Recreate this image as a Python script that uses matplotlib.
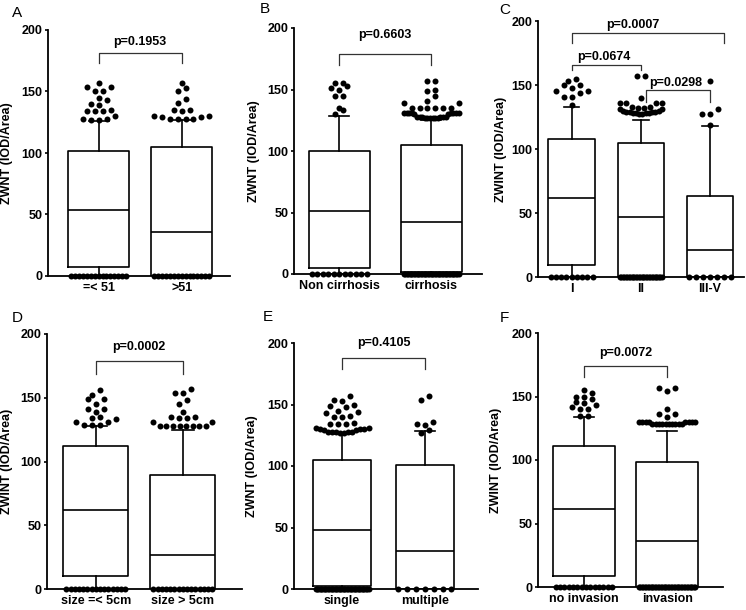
import matplotlib.pyplot as plt
import numpy as np

plt.rcParams['font.family'] = ['Liberation Sans', 'DejaVu Sans']
plt.rcParams['font.weight'] = 'bold'

# ---- data ----
a_label = 'ZWNT (IOD/Area)'
a_groups = ['=< 51', '>51']
a_q1 = [7, 0]
a_med = [54, 36]
a_q3 = [102, 105]
a_whi = [126, 127]
a_zeros = [15, 15]
a_out = [[157, 154, 154, 150, 150, 145, 143, 140, 139, 135, 134, 134, 134, 130, 128, 128, 127, 126.5],
         [157, 153, 150, 144, 141, 135, 135, 134, 130, 129, 128, 128, 128, 128, 129, 130]]
a_p = ['p=0.1953']

b_label = 'ZWNT (IOD/Area)'
b_groups = ['Non cirrhosis', 'cirrhosis']
b_q1 = [5, 2]
b_med = [51, 42]
b_q3 = [99.6, 105]
b_whi = [128.6, 125]
b_zeros = [11, 40]
b_out = [[155, 155, 153, 151, 150, 145, 145, 135, 133, 130],
         [157, 157, 150, 149, 145, 141, 139, 139, 135, 135, 135, 135, 135, 135,
          131, 131, 131, 131, 131, 130, 130, 131, 131, 131,
          128, 128, 128, 128, 128, 128, 127, 127, 127, 127, 127, 127]]
b_p = ['p=0.6603']

c_label = 'ZWINT (IOD/Area)'
c_groups = ['I', 'II', 'III-V']
c_q1 = [9, 0, 0]
c_med = [62, 46.5, 21]
c_q3 = [108, 105, 63]
c_whi = [133, 123, 118]
c_zeros = [9, 30, 7]
c_out = [[155, 153, 150, 150, 148, 145, 145, 144, 141, 141, 134],
         [157, 157, 140, 136, 136, 136, 136, 133, 133, 132, 132, 131, 131, 130, 130, 129, 129,
          129, 129, 128, 128, 128, 128, 127, 127],
         [153, 131.5, 127, 127, 119]]
c_p = ['p=0.0007', 'p=0.0674', 'p=0.0298']

d_label = 'ZWINT (IOD/Area)'
d_groups = ['size =< 5cm', 'size > 5cm']
d_q1 = [10, 0]
d_med = [62, 27]
d_q3 = [112, 89.5]
d_whi = [128, 125]
d_zeros = [15, 15]
d_out = [[156, 152, 149, 149, 145, 141, 141, 139, 135, 134, 133, 131, 131, 129, 129, 129],
         [157, 154, 154, 148, 145, 139, 135, 135, 134, 134, 131, 131,
          128, 128, 128, 128, 128, 128, 128, 128]]
d_p = ['p=0.0002']

e_label = 'ZWNT (IOD/Area)'
e_groups = ['single', 'multiple']
e_q1 = [2.5, 0]
e_med = [48, 31]
e_q3 = [104.5, 101]
e_whi = [126, 128.5]
e_zeros = [40, 7]
e_out = [[157, 154, 152.5, 149.6, 148, 149, 145, 143, 144, 140.6, 139.5, 140, 134.7, 134, 134, 134.5,
          131, 130, 129, 128, 127.5, 127, 127, 127.5, 128, 129, 130, 131, 130, 128],
         [157, 154, 136, 134.5, 133, 129, 127]]
e_p = ['p=0.4105']

f_label = 'ZWINT (IOD/Area)'
f_groups = ['no invasion', 'invasion']
f_q1 = [9, 0]
f_med = [61.5, 36.5]
f_q3 = [111, 98.7]
f_whi = [134, 123]
f_zeros = [14, 40]
f_out = [[155, 153, 150, 150, 148, 146, 145, 143, 142, 140, 140, 135, 135],
         [157, 157, 154, 140, 136, 136, 134, 130, 130, 130, 130, 130, 130, 130, 130,
          128, 128, 128, 128, 128, 128, 128, 128, 128, 128]]
f_p = ['p=0.0072']

# ---- layout (pixels in a 746x610 canvas) ----
W, H = 746, 610
# ax rect (left, right, top@200, bottom@0), xlim, box width, ylabel right edge px, letter px
layout = {
    'A': dict(rect=(48, 230, 30, 276), xlim=(0.39, 2.58), bw=0.73, ylab=13, let=(12, 13)),
    'B': dict(rect=(294, 482, 28, 274), xlim=(0.51, 2.55), bw=0.66, ylab=260, let=(260, 9)),
    'C': dict(rect=(538, 744, 21, 277), xlim=(0.514, 3.49), bw=0.67, ylab=507, let=(499, 10)),
    'D': dict(rect=(47, 242, 334, 589), xlim=(0.44, 2.68), bw=0.75, ylab=13, let=(12, 318)),
    'E': dict(rect=(294, 478, 343, 589), xlim=(0.42, 2.64), bw=0.71, ylab=258, let=(263, 317)),
    'F': dict(rect=(538, 723, 333, 587), xlim=(0.45, 2.67), bw=0.75, ylab=502, let=(500, 318)),
}
# brackets: (x1, x2, y_bar, y_end, text_x, text_y)
brackets = {
    'A': [(1, 2, 181, 173, 1.5, 190)],
    'B': [(1, 2, 179, 170, 1.5, 194.5)],
    'C': [(1, 3.2, 191, 183, 1.89, 196.5), (1, 2, 166, 162, 1.47, 171.5), (2.08, 3.0, 146, 137, 2.51, 151.5)],
    'D': [(1, 2, 178.5, 169, 1.5, 189.5)],
    'E': [(1, 2, 188, 179, 1.5, 200)],
    'F': [(1, 2, 174, 165, 1.5, 184)],
}

panels = [
    ('A', a_label, a_groups, a_q1, a_med, a_q3, a_whi, a_zeros, a_out, a_p),
    ('B', b_label, b_groups, b_q1, b_med, b_q3, b_whi, b_zeros, b_out, b_p),
    ('C', c_label, c_groups, c_q1, c_med, c_q3, c_whi, c_zeros, c_out, c_p),
    ('D', d_label, d_groups, d_q1, d_med, d_q3, d_whi, d_zeros, d_out, d_p),
    ('E', e_label, e_groups, e_q1, e_med, e_q3, e_whi, e_zeros, e_out, e_p),
    ('F', f_label, f_groups, f_q1, f_med, f_q3, f_whi, f_zeros, f_out, f_p),
]

DOT = 6.0       # dot diameter, px
GAP = 8.0       # spacing of dots in one row, px
DOT_S = (DOT * 0.72) ** 2


def scatter_rows(vals, sy, cap):
    # GraphPad-like column scatter: group close values into rows, spread each row sideways
    rows = []
    for v in sorted(vals):
        if rows and (v - rows[-1][0]) * sy < DOT:
            rows[-1].append(v)
        else:
            rows.append([v])
    xs, ys = [], []
    for row in rows:
        m = len(row)
        step = GAP if m == 1 else min(GAP, 2 * cap / (m - 1))
        offs = (np.arange(m) - (m - 1) / 2) * step
        order = np.argsort(np.abs(offs) + np.arange(m) * 1e-6)
        for j, v in zip(order, row):
            xs.append(offs[j])
            ys.append(v)
    return np.array(xs), ys


fig = plt.figure(figsize=(W / 100, H / 100), dpi=100)

for letter, ylabel, groups, q1, med, q3, whi, zeros, outs, pvals in panels:
    lay = layout[letter]
    l, r, t, b = lay['rect']
    ax = fig.add_axes([l / W, 1 - b / H, (r - l) / W, (b - t) / H])
    n = len(groups)
    pos = np.arange(1, n + 1)
    stats = [dict(med=med[i], q1=q1[i], q3=q3[i], whislo=0, whishi=whi[i], fliers=[]) for i in range(n)]
    lp = dict(color='black', linewidth=1.2)
    ax.bxp(stats, positions=pos, widths=lay['bw'], showfliers=False, capwidths=lay['bw'] * 0.33,
           boxprops=lp, medianprops=lp, whiskerprops=lp, capprops=lp)
    ax.set_xlim(*lay['xlim'])
    ax.set_ylim(0, 200)

    sx = (r - l) / (lay['xlim'][1] - lay['xlim'][0])
    sy = (b - t) / 200.0
    half = lay['bw'] * 0.45
    for i in range(n):
        xo, ys = scatter_rows(outs[i], sy, half * sx)
        ax.scatter(pos[i] + xo / sx, ys, s=DOT_S, color='black', linewidths=0, zorder=3, clip_on=False)
        nz = zeros[i]
        zx = pos[i] + np.linspace(-half, half, nz)
        ax.scatter(zx, np.zeros(nz), s=DOT_S, color='black', linewidths=0, zorder=3, clip_on=False)

    for (x1, x2, yb, ye, tx, ty), ptxt in zip(brackets[letter], pvals):
        ax.plot([x1, x1, x2, x2], [ye, yb, yb, ye], color='#333333', lw=0.9, clip_on=False)
        ax.text(tx, ty, ptxt, ha='center', va='center', fontsize=9, fontweight='bold', clip_on=False)

    ax.spines['top'].set_visible(False)
    ax.spines['right'].set_visible(False)
    ax.spines['left'].set_linewidth(1.3)
    ax.spines['bottom'].set_linewidth(1.3)
    ax.set_yticks([0, 50, 100, 150, 200])
    ax.tick_params(axis='y', length=2.5, width=1.2, pad=1.5, labelsize=9)
    ax.set_xticks(pos)
    ax.set_xticklabels(groups, fontsize=9, fontweight='bold')
    ax.tick_params(axis='x', length=0, pad=4)

    ax.set_ylabel(ylabel, fontsize=9, fontweight='bold')
    ax.yaxis.set_label_coords((lay['ylab'] - l) / (r - l), 0.5)

    fx, fy = lay['let']
    fig.text(fx / W, 1 - fy / H, letter, fontsize=11, fontweight='normal', ha='left', va='center')

fig.savefig('out.png', dpi=100)
